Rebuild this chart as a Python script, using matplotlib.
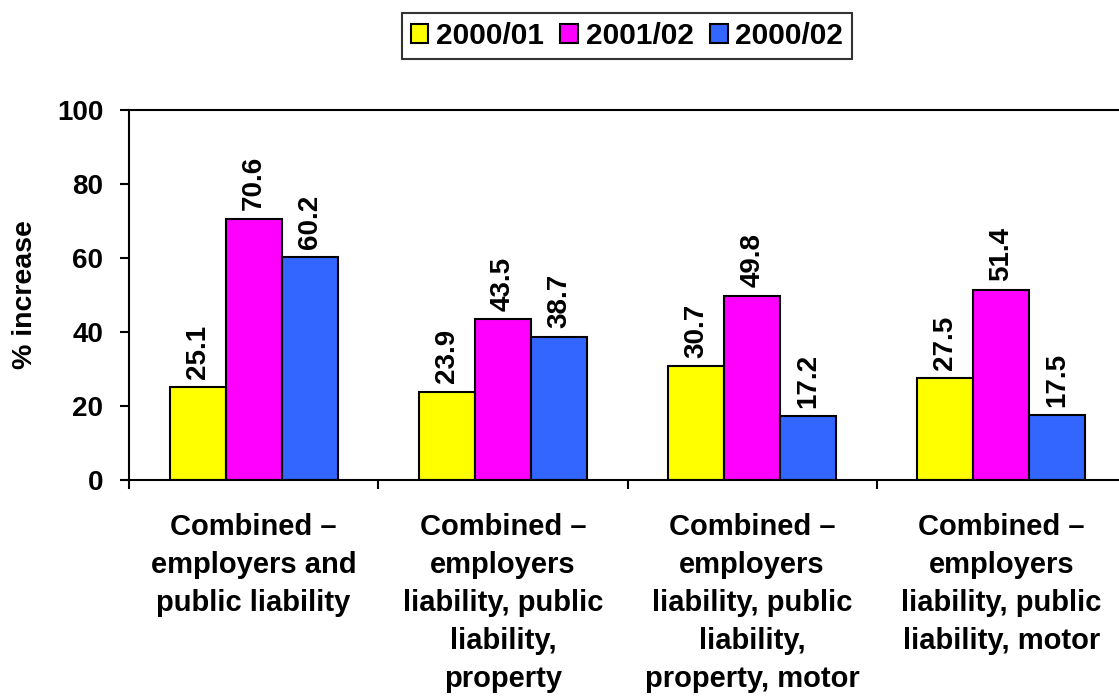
import matplotlib.pyplot as plt
from matplotlib.ticker import FixedLocator
import numpy as np

plt.rcParams['font.family'] = ['Liberation Sans', 'DejaVu Sans']
plt.rcParams['font.weight'] = 'bold'

categories = [
    "Combined \u2013\nemployers and\npublic liability",
    "Combined \u2013\nemployers\nliability, public\nliability,\nproperty",
    "Combined \u2013\nemployers\nliability, public\nliability,\nproperty, motor",
    "Combined \u2013\nemployers\nliability, public\nliability, motor",
]
series_names = ["2000/01", "2001/02", "2000/02"]
vals_0001 = [25.1, 23.9, 30.7, 27.5]
vals_0102 = [70.6, 43.5, 49.8, 51.4]
vals_0002 = [60.2, 38.7, 17.2, 17.5]
colors = ["#FFFF00", "#FF00FF", "#3366FF"]

fig = plt.figure(figsize=(11.19, 6.96), dpi=100)
ax = fig.add_axes([129 / 1119, 1 - 480 / 696, 997 / 1119, 370 / 696])

x = np.arange(len(categories))
w = 0.225
handles = []
for i, (vals, name, c) in enumerate(zip([vals_0001, vals_0102, vals_0002], series_names, colors)):
    pos = x + (i - 1) * w
    b = ax.bar(pos, vals, width=w, color=c, edgecolor='black', linewidth=1.5,
               label=name, zorder=2)
    handles.append(b)
    for px, v in zip(pos, vals):
        ax.annotate(f"{v:.1f}", (px, v), xytext=(0, 6), textcoords='offset points',
                    rotation=90, ha='center', va='bottom', fontsize=20,
                    fontweight='bold')

ax.set_xlim(-0.5, 3.5)
ax.set_ylim(0, 100)
ax.set_yticks([0, 20, 40, 60, 80, 100])
ax.tick_params(axis='y', direction='out', length=6.5, width=1.5, pad=12, labelsize=20)

# category boundaries get the tick marks, labels sit in the middle
ax.xaxis.set_major_locator(FixedLocator([-0.5, 0.5, 1.5, 2.5, 3.5]))
ax.xaxis.set_minor_locator(FixedLocator(x))
ax.set_xticklabels([], minor=False)
ax.set_xticklabels(categories, minor=True, fontsize=21, fontweight='bold',
                   linespacing=1.45)
ax.tick_params(axis='x', which='major', direction='out', length=6.5, width=1.5)
ax.tick_params(axis='x', which='minor', length=0, pad=24)

for s in ['left', 'bottom', 'top']:
    ax.spines[s].set_linewidth(1.5)
ax.spines['right'].set_visible(False)

ax.set_ylabel("% increase", fontsize=20.5, fontweight='bold', va='center')
ax.yaxis.set_label_coords(-104 / 997, 0.5)

leg = fig.legend(handles=handles, labels=series_names, loc='center',
                 bbox_to_anchor=(627 / 1119, 1 - 36 / 696), ncol=3,
                 fontsize=21.5, frameon=True, fancybox=False,
                 handlelength=0.6, handleheight=0.6, handletextpad=0.25,
                 columnspacing=0.55, borderpad=0.3, borderaxespad=0)
leg.get_frame().set_edgecolor('black')
leg.get_frame().set_linewidth(1.5)
for t in leg.get_texts():
    t.set_fontweight('bold')

fig.savefig("out.png", dpi=100)
